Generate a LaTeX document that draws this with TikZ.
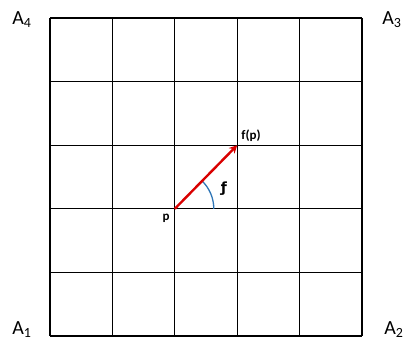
\documentclass[tikz,border=0pt]{standalone}
\usepackage{fontspec}
\setmainfont{Carlito}
\newfontfamily\symfont{DejaVu Sans}
\usetikzlibrary{arrows.meta}
\definecolor{arcblue}{HTML}{2E75B6}
\begin{document}
\begin{tikzpicture}[x=1pt,y=-1pt,
  gridline/.style={line width=1.3pt,black},
  vec/.style={line width=2.4pt,red!85!black,-{Stealth[length=8pt,width=8pt]}},
  corner/.style={font=\fontsize{20}{22}\selectfont},
  ptlabel/.style={font=\bfseries\fontsize{13}{14}\selectfont}]
\useasboundingbox (0,0) rectangle (410,343);
\foreach \x in {50,112.4,174.8,237.2,299.6,362}
  \draw[gridline] (\x,18) -- (\x,336);
\foreach \y in {18,81.6,145.2,208.8,272.4,336}
  \draw[gridline] (50,\y) -- (362,\y);
\coordinate (p) at (174.8,208.8);
\coordinate (fp) at (237.2,145.2);
\draw[arcblue,line width=1.3pt] (213.8,208.8) arc[start angle=0,end angle=-46,radius=39];
\draw[vec] (p) -- (fp);
\node[ptlabel] (pl) at (166,218) {p};
\node[ptlabel] (fpl) at (251,136) {f(p)};
\node (phi) at (224,189) {\symfont\bfseries\fontsize{14}{15}\selectfont ƒ};
\node[corner] (a4) at (22,20) {A\textsubscript{4}};
\node[corner] (a3) at (392,20) {A\textsubscript{3}};
\node[corner] (a1) at (22,330) {A\textsubscript{1}};
\node[corner] (a2) at (394,330) {A\textsubscript{2}};
\end{tikzpicture}
\end{document}
